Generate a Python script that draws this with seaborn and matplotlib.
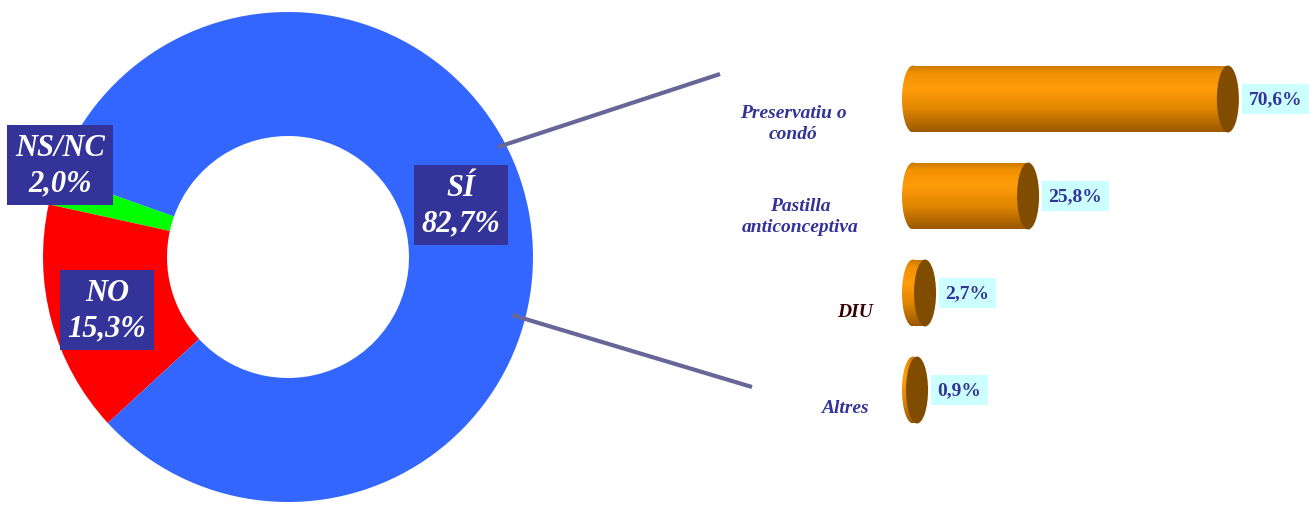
import numpy as np
import pandas as pd
import matplotlib.pyplot as plt
import seaborn as sns
from matplotlib.patches import Ellipse
from matplotlib.colors import LinearSegmentedColormap

# donut: resposta
resposta = ['NS/NC', 'NO', 'SÍ']
resposta_pct = [2.0, 15.3, 82.7]
resposta_colors = ['#00FF00', '#FF0000', '#3366FF']

# bars: metode
metodes = ['Preservatiu o\ncondó', 'Pastilla\nanticonceptiva', 'DIU', 'Altres']
metodes_pct = [70.6, 25.8, 2.7, 0.9]
metodes_colors = ['#333399', '#333399', '#330000', '#333399']


def fmt(v):
    return f'{v:.1f}'.replace('.', ',') + '%'


sns.set_theme(style='white')
plt.rcParams['font.family'] = ['Liberation Serif', 'DejaVu Serif']

W, H = 1311, 506
fig = plt.figure(figsize=(W / 100, H / 100), dpi=100)

# --- donut (axes in pixel units, y up)
ax0 = fig.add_axes([0, 0, 1, 1])
wedges, _ = ax0.pie(resposta_pct, colors=resposta_colors, startangle=160.4,
                    counterclock=True, radius=245, center=(288, H - 258),
                    wedgeprops=dict(width=124, linewidth=0))
ax0.set_xlim(0, W)
ax0.set_ylim(0, H)
ax0.set_aspect('equal')
ax0.axis('off')

donut_lbl_pos = [(60, 166), (107, 311), (461, 206)]
for name, v, (px, py) in zip(resposta, resposta_pct, donut_lbl_pos):
    ax0.text(px, H - py, f'{name}\n{fmt(v)}', ha='center', va='center',
             fontsize=22, fontweight='bold', fontstyle='italic', color='white',
             linespacing=1.3,
             bbox=dict(boxstyle='square,pad=0.25', fc='#333399', ec='none'))

# connector lines
ax0.plot([498, 720], [H - 148, H - 75], color='#666699', lw=3, solid_capstyle='butt')
ax0.plot([512, 752], [H - 316, H - 388], color='#666699', lw=3, solid_capstyle='butt')

# --- cylinder bars
zero_px, scale = 913, 4.46
left_px = 900
ax1 = fig.add_axes([left_px / W, (H - 439.5) / H, (W - left_px) / W, 388 / H])
df = pd.DataFrame({'metode': metodes, 'pct': metodes_pct})
sns.barplot(data=df, x='pct', y='metode', orient='h', color='#FF9900',
            width=0.69, linewidth=0, ax=ax1)

cyl = LinearSegmentedColormap.from_list('cyl', [
    (0.0, '#C77700'), (0.12, '#F29100'), (0.35, '#FF9C0A'),
    (0.65, '#E08600'), (1.0, '#9A5800')])
grad = np.linspace(0, 1, 256).reshape(-1, 1)
rx = 11 / scale

for p, v in zip(ax1.patches, metodes_pct):
    x, y, w, h = p.get_x(), p.get_y(), p.get_width(), p.get_height()
    yc = y + h / 2
    p.set_facecolor('none')
    left_end = Ellipse((x, yc), 2 * rx, h, fc='none', ec='none')
    ax1.add_patch(left_end)
    for clip in (p, left_end):
        im = ax1.imshow(grad, extent=(x - rx, x + w, y + h, y), aspect='auto',
                        cmap=cyl, origin='upper', interpolation='bilinear', zorder=2)
        im.set_clip_path(clip)
    ax1.add_patch(Ellipse((x + w, yc), 2 * rx, h, fc='#7F4C00', ec='none', zorder=3))
    ax1.text(x + w + rx + 9.5 / scale, yc, fmt(v), ha='left', va='center',
             fontsize=14, fontweight='bold', color='#333399', zorder=4,
             bbox=dict(boxstyle='square,pad=0.35', fc='#CCFFFF', ec='none'))

ax1.set_xlim((left_px - zero_px) / scale, (W - zero_px) / scale)
ax1.set_ylim(3.5, -0.5)
ax1.axis('off')

# category labels
cat_lbl_pos = [(793, 124), (800, 217), (855, 313), (845, 409)]
for lbl, c, (px, py) in zip(metodes, metodes_colors, cat_lbl_pos):
    fig.text(px / W, 1 - py / H, lbl, ha='center', va='center', fontsize=14,
             fontweight='bold', fontstyle='italic', color=c, linespacing=1.3)

fig.savefig('out.png', dpi=100)
